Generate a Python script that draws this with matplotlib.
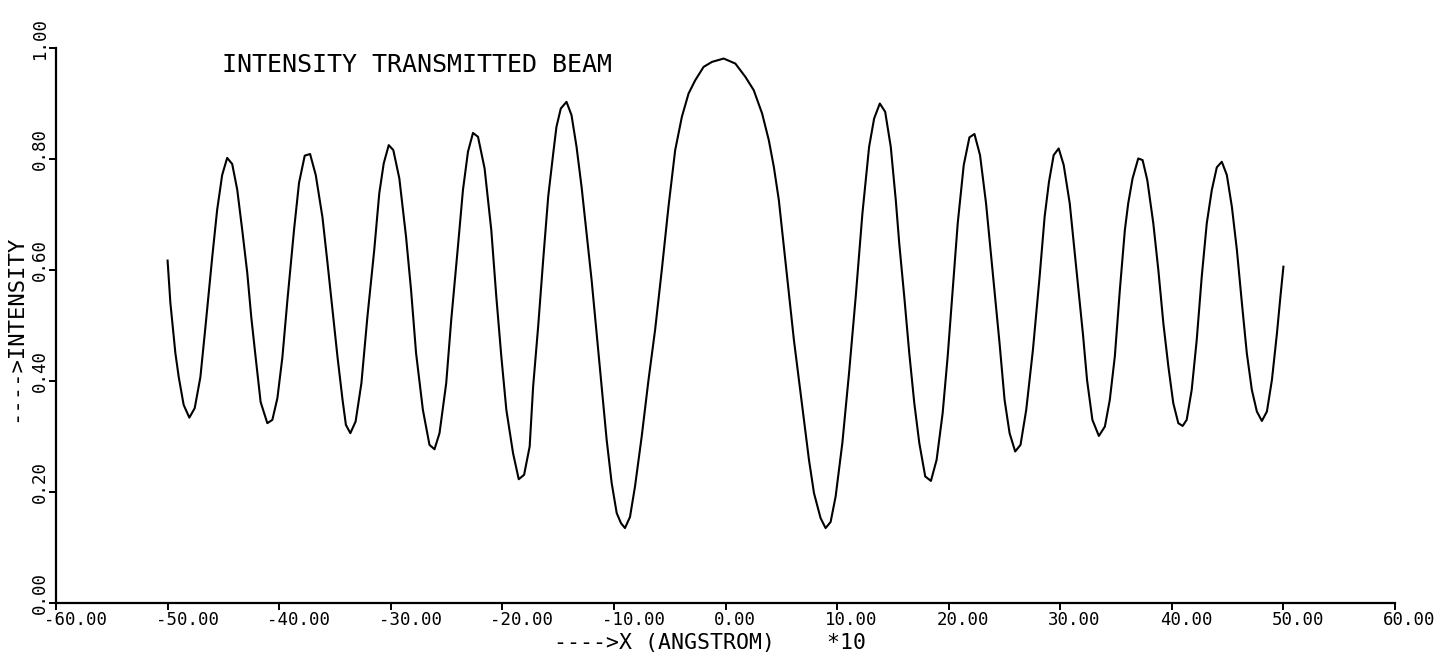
import numpy as np
from matplotlib import pyplot as plt
from matplotlib import transforms

# x in units of 10 angstrom, intensity of the transmitted beam
x_pos = [-50.0, -49.75, -49.30, -49.0, -48.56, -48.05, -47.57, -47.06, -46.61, -46.0,
         -45.56, -45.11, -44.66, -44.21, -43.76, -43.31, -42.86, -42.50, -42.11, -41.66,
         -41.06, -40.61, -40.16, -39.71, -39.26, -38.67, -38.22, -37.71, -37.23, -36.72,
         -36.12, -35.67, -35.22, -34.77, -34.32, -34.02, -33.62, -33.15, -32.63, -32.09,
         -31.48, -31.03, -30.63, -30.18, -29.77, -29.23, -28.63, -28.18, -27.73, -27.12,
         -26.53, -26.08, -25.63, -25.03, -24.58, -23.98, -23.53, -23.08, -22.63, -22.18,
         -21.59, -20.99, -20.54, -20.09, -19.64, -19.04, -18.53, -18.05, -17.55, -17.24,
         -16.79, -16.34, -15.89, -15.44, -15.15, -14.76, -14.25, -13.80, -13.35, -12.90,
         -12.45, -12.00, -11.55, -11.10, -10.65, -10.20, -9.75, -9.37, -9.01, -8.56,
         -8.11, -7.51, -6.90, -6.31, -5.71, -5.11, -4.51, -3.91, -3.31, -2.71,
         -1.96, -1.21, -0.16, 0.88, 1.78, 2.53, 3.28, 3.88, 4.33, 4.78,
         5.23, 5.68, 6.13, 6.58, 7.03, 7.48, 7.93, 8.52, 8.97, 9.42,
         9.87, 10.47, 11.07, 11.67, 12.27, 12.87, 13.32, 13.83, 14.31, 14.81,
         15.26, 15.57, 16.02, 16.47, 16.92, 17.37, 17.90, 18.41, 18.92, 19.46,
         19.91, 20.36, 20.81, 21.35, 21.86, 22.31, 22.81, 23.35, 23.96, 24.56,
         25.01, 25.46, 25.96, 26.44, 26.95, 27.55, 28.15, 28.60, 28.99, 29.41,
         29.86, 30.31, 30.85, 31.39, 32.04, 32.40, 32.88, 33.46, 34.00, 34.44,
         34.89, 35.34, 35.79, 36.09, 36.48, 36.99, 37.38, 37.80, 38.34, 38.79,
         39.24, 39.69, 40.13, 40.58, 40.97, 41.33, 41.78, 42.23, 42.68, 43.13,
         43.58, 44.03, 44.48, 44.93, 45.38, 45.83, 46.28, 46.72, 47.17, 47.62,
         48.07, 48.52, 48.97, 49.42, 49.73, 50.0]
intensity = [0.617, 0.541, 0.450, 0.407, 0.357, 0.334, 0.351, 0.407, 0.497, 0.623,
             0.708, 0.771, 0.802, 0.791, 0.745, 0.672, 0.595, 0.515, 0.443, 0.362,
             0.324, 0.330, 0.369, 0.443, 0.546, 0.672, 0.757, 0.806, 0.809, 0.771,
             0.695, 0.613, 0.528, 0.443, 0.366, 0.321, 0.306, 0.327, 0.396, 0.516,
             0.636, 0.738, 0.792, 0.825, 0.816, 0.765, 0.660, 0.564, 0.450, 0.348,
             0.285, 0.277, 0.306, 0.396, 0.510, 0.642, 0.744, 0.813, 0.847, 0.840,
             0.783, 0.672, 0.552, 0.444, 0.348, 0.270, 0.223, 0.231, 0.282, 0.390,
             0.498, 0.618, 0.732, 0.810, 0.858, 0.891, 0.903, 0.879, 0.822, 0.750,
             0.666, 0.582, 0.486, 0.390, 0.294, 0.216, 0.162, 0.144, 0.135, 0.155,
             0.210, 0.300, 0.402, 0.492, 0.600, 0.714, 0.816, 0.876, 0.918, 0.942,
             0.966, 0.975, 0.981, 0.972, 0.948, 0.924, 0.882, 0.834, 0.786, 0.726,
             0.642, 0.558, 0.474, 0.402, 0.330, 0.258, 0.198, 0.153, 0.135, 0.146,
             0.192, 0.288, 0.414, 0.552, 0.702, 0.822, 0.873, 0.900, 0.885, 0.822,
             0.726, 0.648, 0.552, 0.450, 0.360, 0.288, 0.228, 0.220, 0.258, 0.342,
             0.444, 0.564, 0.684, 0.789, 0.839, 0.845, 0.807, 0.720, 0.594, 0.468,
             0.366, 0.306, 0.273, 0.285, 0.348, 0.456, 0.588, 0.696, 0.759, 0.807,
             0.819, 0.789, 0.720, 0.612, 0.483, 0.402, 0.330, 0.301, 0.318, 0.366,
             0.444, 0.564, 0.672, 0.720, 0.765, 0.801, 0.798, 0.762, 0.684, 0.600,
             0.504, 0.426, 0.360, 0.324, 0.319, 0.330, 0.384, 0.474, 0.588, 0.684,
             0.744, 0.785, 0.795, 0.771, 0.714, 0.636, 0.540, 0.450, 0.384, 0.345,
             0.328, 0.345, 0.402, 0.486, 0.552, 0.606]

xticks = [-60, -50, -40, -30, -20, -10, 0, 10, 20, 30, 40, 50, 60]
yticks = [0.0, 0.2, 0.4, 0.6, 0.8, 1.0]

plt.rcParams['font.family'] = ['DejaVu Sans Mono']

fig = plt.figure(figsize=(14.44, 6.59), dpi=100)
ax = fig.add_axes([0.03878, 0.08498, 0.92729, 0.84218])

ax.plot(x_pos, intensity, color='black', lw=1.5)

ax.set_xlim(-60, 60)
ax.set_ylim(0, 1)
ax.spines['top'].set_visible(False)
ax.spines['right'].set_visible(False)
ax.spines['left'].set_linewidth(1.6)
ax.spines['bottom'].set_linewidth(1.6)
ax.tick_params(direction='out', length=5, width=1.4, colors='black')

ax.set_xticks(xticks)
ax.set_xticklabels([f'{t:.2f}' for t in xticks], fontsize=12.5, ha='left')
ax.tick_params(axis='x', pad=1)
for lab in ax.get_xticklabels():
    lab.set_transform(lab.get_transform() + transforms.ScaledTranslation(-0.12, 0, fig.dpi_scale_trans))

ax.set_yticks(yticks)
ax.set_yticklabels([f'{t:.2f}' for t in yticks], fontsize=12.5, rotation=90, va='center')
ax.tick_params(axis='y', pad=0)
for lab in ax.get_yticklabels():
    lab.set_transform(lab.get_transform() + transforms.ScaledTranslation(0, 0.10, fig.dpi_scale_trans))

fig.text(222 / 1444, 1 - 65 / 659, 'INTENSITY TRANSMITTED BEAM', fontsize=18, ha='left', va='center')
fig.text(15 / 1444, 1 - 328 / 659, '---->INTENSITY', fontsize=16, rotation=90, ha='center', va='center')
fig.text(710 / 1444, 1 - 643 / 659, '---->X (ANGSTROM)    *10', fontsize=15.5, ha='center', va='center')

fig.savefig('out.png', dpi=100)
